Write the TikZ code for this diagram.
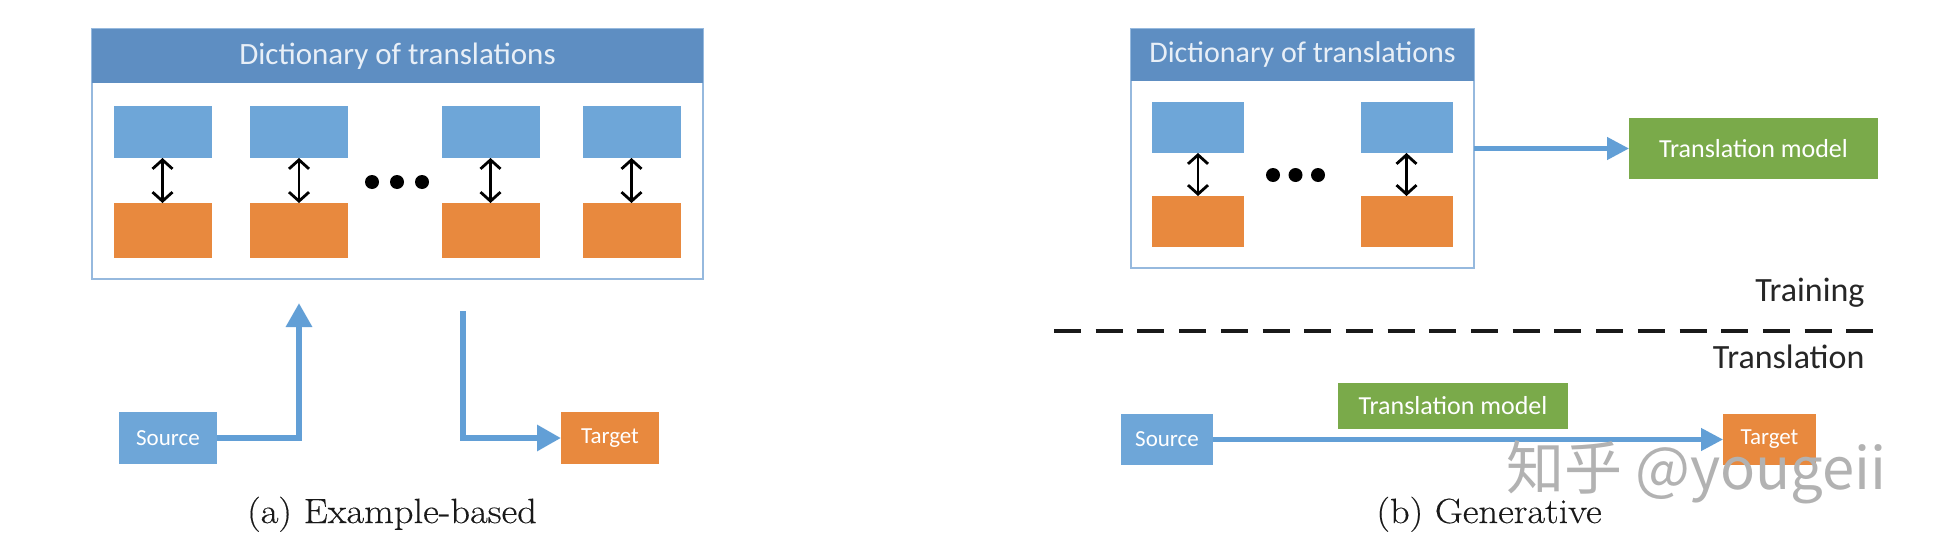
\documentclass[tikz,border=0pt]{standalone}
\usepackage{fontspec}
\usetikzlibrary{arrows.meta}
\newfontfamily\calfont{Carlito}
\newfontfamily\cjkfont{Noto Sans CJK SC}
\newfontfamily\capfont[FakeStretch=1.1,FakeBold=0.3]{Latin Modern Roman}
\definecolor{hdr}{RGB}{94,142,194}
\definecolor{lblue}{RGB}{110,166,216}
\definecolor{orng}{RGB}{232,137,62}
\definecolor{grn}{RGB}{122,170,74}
\definecolor{conn}{RGB}{98,159,214}
\definecolor{frm}{RGB}{150,185,222}
\definecolor{hdrtext}{RGB}{232,239,247}
\tikzset{
  frame/.style={draw=frm, line width=2.5pt, fill=white, inner sep=0, outer sep=0},
  header/.style={fill=hdr, inner sep=0, outer sep=0, text=hdrtext, font=\calfont\fontsize{31}{36}\selectfont},
  bluebox/.style={fill=lblue, inner sep=0, outer sep=0},
  orangebox/.style={fill=orng, inner sep=0, outer sep=0},
  greenbox/.style={fill=grn, inner sep=0, outer sep=0, text=white, font=\calfont\fontsize{26}{31}\selectfont},
  labelbox/.style={inner sep=0, outer sep=0, text=white, font=\calfont\fontsize{23}{27}\selectfont},
  dot/.style={circle, fill=black, inner sep=0, minimum size=14pt},
  dbl/.style={line width=2.8pt, {Straight Barb[length=9pt,width=20pt]}-{Straight Barb[length=9pt,width=20pt]}},
  conn/.style={draw=conn, line width=6pt, -{Triangle[length=24pt,width=25pt]}},
  connthin/.style={draw=conn, line width=4.5pt, -{Triangle[length=22pt,width=22pt]}},
  caption/.style={font=\capfont\fontsize{35}{40}\selectfont, anchor=base, text=black!90},
  phase/.style={font=\calfont\fontsize{34}{40}\selectfont, anchor=east, text=black!85},
}
\begin{document}
\begin{tikzpicture}[x=1pt,y=-1pt]
\useasboundingbox (0,0) rectangle (1938,554);
\fill[white] (0,0) rectangle (1938,554);

% ---------------- (a) Example-based ----------------
\node[frame, minimum width=611pt, minimum height=250pt] (dictA) at (397.5,154) {};
\node[header, minimum width=611pt, minimum height=54pt] (hdrA) at (397.5,56) {Dictionary of translations};
\foreach \i/\x in {1/162.5,2/299,3/490.5,4/631.5}{
  \node[bluebox, minimum width=98pt, minimum height=52pt] (aS\i) at (\x,132) {};
  \node[orangebox, minimum width=98pt, minimum height=55pt] (aT\i) at (\x,230.5) {};
  \draw[dbl] (aS\i.south) -- (aT\i.north);
}
\node[dot] (aD1) at (372,182) {};
\node[dot] (aD2) at (397,182) {};
\node[dot] (aD3) at (422,182) {};

\node[labelbox, fill=lblue, minimum width=98pt, minimum height=52pt] (srcA) at (168,438) {Source};
\node[labelbox, fill=orng, minimum width=98pt, minimum height=52pt] (tgtA) at (610,438) {Target};
\coordinate (upA) at (299,303);
\coordinate (downA) at (463,311);
\draw[conn] (srcA.east) -| (upA);
\draw[conn] (downA) |- (tgtA.west);
\node[caption] (capA) at (392,523) {(a) Example-based};

% ---------------- (b) Generative ----------------
\node[frame, minimum width=343pt, minimum height=239pt] (dictB) at (1302.5,148.5) {};
\node[header, minimum width=343pt, minimum height=52pt, font=\calfont\fontsize{30}{36}\selectfont] (hdrB) at (1302.5,55) {Dictionary of translations};
\foreach \i/\x in {1/1198,2/1406.5}{
  \node[bluebox, minimum width=92pt, minimum height=51pt] (bS\i) at (\x,127.5) {};
  \node[orangebox, minimum width=92pt, minimum height=51pt] (bT\i) at (\x,221.5) {};
  \draw[dbl] (bS\i.south) -- (bT\i.north);
}
\node[dot] (bD1) at (1273,175) {};
\node[dot] (bD2) at (1295.5,175) {};
\node[dot] (bD3) at (1318,175) {};

\node[greenbox, minimum width=249pt, minimum height=61pt] (tmA) at (1753.5,148.5) {Translation model};
\draw[connthin] (dictB.east) -- (tmA.west);

\node[phase] (train) at (1868,293) {Training};
\coordinate (dashL) at (1054,331);
\coordinate (dashR) at (1873,331);
\draw[line width=4pt, dash pattern=on 27pt off 14.7pt, black!90] (dashL) -- (dashR);
\node[phase] (transl) at (1868,357) {Translation};

\node[labelbox, fill=lblue, minimum width=92pt, minimum height=51pt] (srcB) at (1167,439.5) {Source};
\node[greenbox, minimum width=230pt, minimum height=46pt] (tmB) at (1453,406) {Translation model};
\node[labelbox, fill=orng, minimum width=93pt, minimum height=51pt] (tgtB) at (1769.5,439.5) {Target};
\draw[connthin] (srcB.east) -- (tgtB.west);
\node[caption] (capB) at (1489,523) {(b) Generative};

% watermark
\node[anchor=base west, inner sep=0, text=black!30, font=\cjkfont\fontsize{58}{60}\selectfont] (wm) at (1506,489) {知乎 @yougeii};
\end{tikzpicture}
\end{document}
